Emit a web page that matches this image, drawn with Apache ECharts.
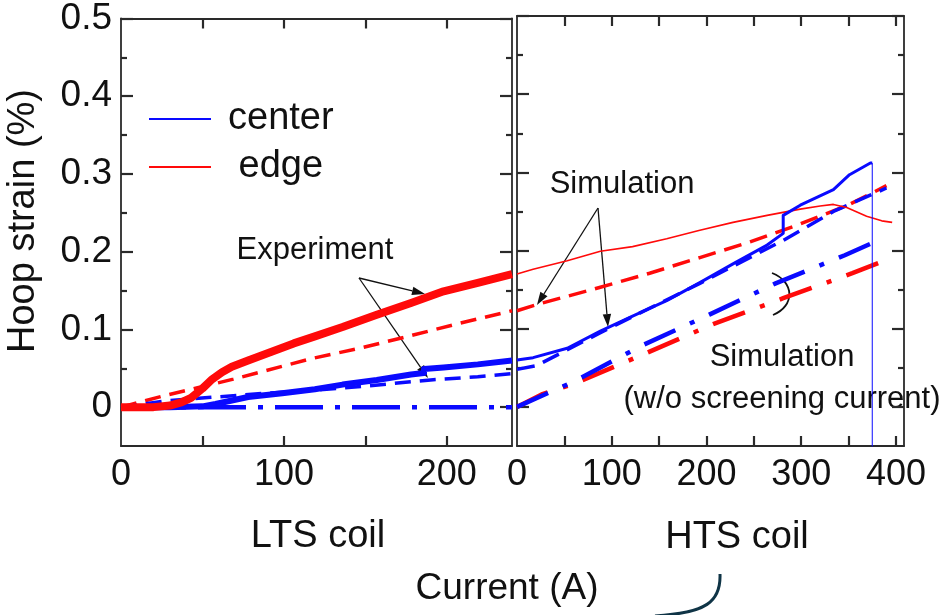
<!DOCTYPE html>
<html>
<head>
<meta charset="utf-8">
<script src="https://cdn.jsdelivr.net/npm/echarts@6/dist/echarts.min.js"></script>
<style>
  html, body { margin: 0; padding: 0; background: #fff; }
  #chart { width: 949px; height: 615px; }
</style>
</head>
<body>
<div id="chart"></div>
<script>
// Hoop strain vs. current for the LTS coil (left panel) and HTS coil (right panel)

// ---- axis ticks / labels ----
const ltsTicks = [50, 100, 150, 200];
const ltsLabels = [0, 100, 200];
const htsTicks = [50, 100, 150, 200, 250, 300, 350, 400];
const htsLabels = [0, 100, 200, 300, 400];
const strainMajor = [0, 0.1, 0.2, 0.3, 0.4, 0.5];
const strainMinor = [0.05, 0.15, 0.25, 0.35, 0.45];

// ---- LTS coil: [current (A), hoop strain (%)] ----
const ltsEdgeExp = [[0,0],[20,0],[30,0.002],[37,0.006],[43,0.012],[50,0.024],[56,0.036],[62,0.045],[68,0.052],[78,0.06],[92,0.071],[106,0.082],[119,0.091],[136,0.103],[157,0.119],[178,0.134],[198,0.149],[219,0.16],[240,0.171]];
const ltsCenterExp = [[0,0],[30,0],[50,0.001],[58,0.004],[78,0.013],[99,0.018],[119,0.023],[136,0.029],[157,0.035],[178,0.042],[186,0.044],[186,0.049],[198,0.051],[219,0.055],[240,0.06]];
const ltsEdgeSim = [[0,0],[27,0.015],[47,0.025],[69,0.036],[89,0.047],[116,0.062],[147,0.076],[178,0.092],[208,0.108],[240,0.124]];
const ltsCenterSim = [[0,0],[27,0.008],[58,0.013],[89,0.018],[120,0.022],[150,0.027],[190,0.035],[219,0.039],[240,0.043]];
const ltsCenterSimNoSc = [[0,0],[240,0]];

// ---- HTS coil: [current (A), hoop strain (%)] ----
const htsEdgeExp = [[0,0.170],[17,0.176],[53,0.187],[88,0.199],[122,0.205],[158,0.215],[193,0.226],[228,0.236],[264,0.245],[299,0.253],[320,0.257],[334,0.259],[348,0.255],[369,0.244],[385,0.238],[396,0.236]];
const htsCenterExp = [[0,0.06],[17,0.063],[53,0.075],[88,0.097],[122,0.116],[158,0.136],[193,0.159],[228,0.183],[264,0.207],[281,0.222],[281,0.245],[299,0.258],[334,0.278],[351,0.297],[373,0.312],[375,0.312]];
const htsCenterQuench = [[375,0.312],[375,-0.1]];
const htsEdgeSim = [[0,0.123],[21,0.131],[88,0.153],[140,0.171],[193,0.191],[246,0.211],[299,0.234],[351,0.259],[390,0.283]];
const htsCenterSim = [[0,0.048],[21,0.053],[88,0.095],[193,0.158],[281,0.213],[334,0.25],[390,0.28]];
const htsEdgeSimNoSc = [[0,0],[26,0.016],[61,0.03],[135,0.068],[207,0.106],[281,0.139],[354,0.171],[390,0.188]];
const htsCenterSimNoSc = [[0,0],[61,0.033],[131,0.078],[203,0.118],[273,0.158],[346,0.194],[381,0.213]];

const FONT = "'Liberation Sans', Arial, Helvetica, sans-serif";
const BLUE = '#0a0aff';
const RED = '#ff0a0a';
const FRAME = '#2a2a2a';
const Y_MIN = -0.05, Y_MAX = 0.5;
const LTS_MAX = 240, HTS_MAX = 408.5;

const grids = [
  { left: 121, top: 16, width: 391, height: 430 },
  { left: 517, top: 16, width: 387, height: 430 }
];

function xAxisDef(grid, max, ticks, labels, pos) {
  return {
    type: 'value', gridIndex: grid, min: 0, max: max, position: pos,
    splitLine: { show: false },
    axisLine: { show: true, onZero: false, lineStyle: { color: FRAME, width: 1.8 } },
    axisTick: { show: true, inside: true, length: 10, customValues: ticks, lineStyle: { color: FRAME, width: 2.2 } },
    axisLabel: labels ? {
      show: true, customValues: labels, margin: 11,
      fontSize: 36, fontFamily: FONT, color: '#111'
    } : { show: false }
  };
}

function yAxisDef(grid, pos, ticks, len, withLabels, withLine) {
  return {
    type: 'value', gridIndex: grid, min: Y_MIN, max: Y_MAX, position: pos,
    splitLine: { show: false },
    axisLine: { show: withLine, onZero: false, lineStyle: { color: FRAME, width: 1.8 } },
    axisTick: { show: true, inside: true, length: len, customValues: ticks, lineStyle: { color: FRAME, width: 2.2 } },
    axisLabel: withLabels ? {
      show: true, customValues: strainMajor, margin: 9,
      fontSize: 37, fontFamily: FONT, color: '#111',
      formatter: v => (Math.abs(v) < 1e-9 ? '0' : v.toFixed(1))
    } : { show: false }
  };
}

const xAxes = [
  xAxisDef(0, LTS_MAX, ltsTicks, ltsLabels, 'bottom'),
  xAxisDef(0, LTS_MAX, ltsTicks, null, 'top'),
  xAxisDef(1, HTS_MAX, htsTicks, htsLabels, 'bottom'),
  xAxisDef(1, HTS_MAX, htsTicks, null, 'top')
];

const yAxes = [
  yAxisDef(0, 'left', strainMajor, 12, true, true),
  yAxisDef(0, 'left', strainMinor, 6, false, false),
  yAxisDef(0, 'right', strainMajor, 12, false, true),
  yAxisDef(0, 'right', strainMinor, 6, false, false),
  yAxisDef(1, 'left', strainMajor, 12, false, true),
  yAxisDef(1, 'left', strainMinor, 6, false, false),
  yAxisDef(1, 'right', strainMajor, 12, false, true),
  yAxisDef(1, 'right', strainMinor, 6, false, false)
];

function line(name, data, panel, color, width, type, z) {
  return {
    name: name, type: 'line', data: data,
    xAxisIndex: panel === 0 ? 0 : 2,
    yAxisIndex: panel === 0 ? 0 : 4,
    showSymbol: false, symbol: 'none', silent: true, animation: false,
    color: color, itemStyle: { color: color },
    lineStyle: { color: color, width: width, type: type, cap: 'butt', join: 'round' },
    z: z || 2
  };
}

const DASH_L = [16, 9];
const DASH_R = [18, 9];
const DASHDOT_L = [48, 12, 5, 12];
const DASHDOT_R = [34, 16, 5, 16];

const series = [
  // LTS coil
  line('center, simulation w/o screening current', ltsCenterSimNoSc, 0, BLUE, 4.5, DASHDOT_L),
  line('edge, simulation', ltsEdgeSim, 0, RED, 3.5, DASH_L),
  line('center, simulation', ltsCenterSim, 0, BLUE, 3.5, DASH_L),
  line('center', ltsCenterExp, 0, BLUE, 6, 'solid', 3),
  line('edge', ltsEdgeExp, 0, RED, 8, 'solid', 4),
  // HTS coil
  line('edge, simulation w/o screening current', htsEdgeSimNoSc, 1, RED, 4.5, DASHDOT_R),
  line('center, simulation w/o screening current', htsCenterSimNoSc, 1, BLUE, 4.5, DASHDOT_R),
  line('edge, simulation', htsEdgeSim, 1, RED, 3.5, DASH_R),
  line('center, simulation', htsCenterSim, 1, BLUE, 3.5, DASH_R),
  line('edge', htsEdgeExp, 1, RED, 1.6, 'solid', 3),
  line('center', htsCenterExp, 1, BLUE, 3, 'solid', 4),
  line('center', htsCenterQuench, 1, BLUE, 1, 'solid', 4)
];

function legendDef(name, top, label) {
  return {
    data: [name], left: 149, top: top, orient: 'vertical', padding: 0,
    selectedMode: false, icon: 'rect', itemWidth: 62, itemHeight: 2, itemGap: 0,
    lineStyle: { width: 2, type: 'solid' },
    formatter: () => label,
    textStyle: { fontSize: 38, fontFamily: FONT, color: '#111', lineHeight: 38, padding: [0, 0, 0, 12] }
  };
}

// arrow: shaft plus filled head at (x2, y2)
function arrow(x1, y1, x2, y2) {
  const L = 13, W = 4.2;
  const a = Math.atan2(y2 - y1, x2 - x1);
  const bx = x2 - L * Math.cos(a), by = y2 - L * Math.sin(a);
  const px = -Math.sin(a) * W, py = Math.cos(a) * W;
  return [
    { type: 'line', silent: true, shape: { x1: x1, y1: y1, x2: bx, y2: by }, style: { stroke: '#111', lineWidth: 1.3 } },
    { type: 'polygon', silent: true, shape: { points: [[x2, y2], [bx + px, by + py], [bx - px, by - py]] }, style: { fill: '#111' } }
  ];
}

function label(text, x, y, size, rotation) {
  return {
    type: 'text', silent: true, x: x, y: y, rotation: rotation || 0,
    style: { text: text, fontSize: size, fontFamily: FONT, fill: '#111', align: 'center', verticalAlign: 'middle' }
  };
}

const graphics = [
  label('Hoop strain (%)', 24, 221, 38, Math.PI / 2),
  label('LTS coil', 318, 537, 38),
  label('HTS coil', 737, 538, 38),
  label('Current (A)', 507, 589, 37),
  label('Experiment', 315, 250, 31),
  label('Simulation', 622, 184, 31),
  label('Simulation', 782, 357, 31),
  label('(w/o screening current)', 782, 399, 31),
  ...arrow(359, 278, 425, 294),
  ...arrow(359, 278, 428, 378),
  ...arrow(598, 208, 537, 305),
  ...arrow(598, 208, 608, 327),
  {
    type: 'bezierCurve', silent: true,
    shape: { x1: 772, y1: 273, cpx1: 795, cpy1: 282, cpx2: 795, cpy2: 306, x2: 773, y2: 315 },
    style: { stroke: '#111', lineWidth: 1.8, fill: null }
  },
  {
    type: 'bezierCurve', silent: true,
    shape: { x1: 720, y1: 574, cpx1: 721, cpy1: 602, cpx2: 706, cpy2: 613, x2: 655, y2: 616 },
    style: { stroke: '#0f3446', lineWidth: 3, fill: null }
  }
];

const chart = echarts.init(document.getElementById('chart'), null, { renderer: 'canvas' });
chart.setOption({
  backgroundColor: '#fff',
  animation: false,
  grid: grids,
  xAxis: xAxes,
  yAxis: yAxes,
  legend: [legendDef('center', 100, 'center'), legendDef('edge', 148, ' edge')],
  series: series,
  graphic: graphics
});
</script>
</body>
</html>
